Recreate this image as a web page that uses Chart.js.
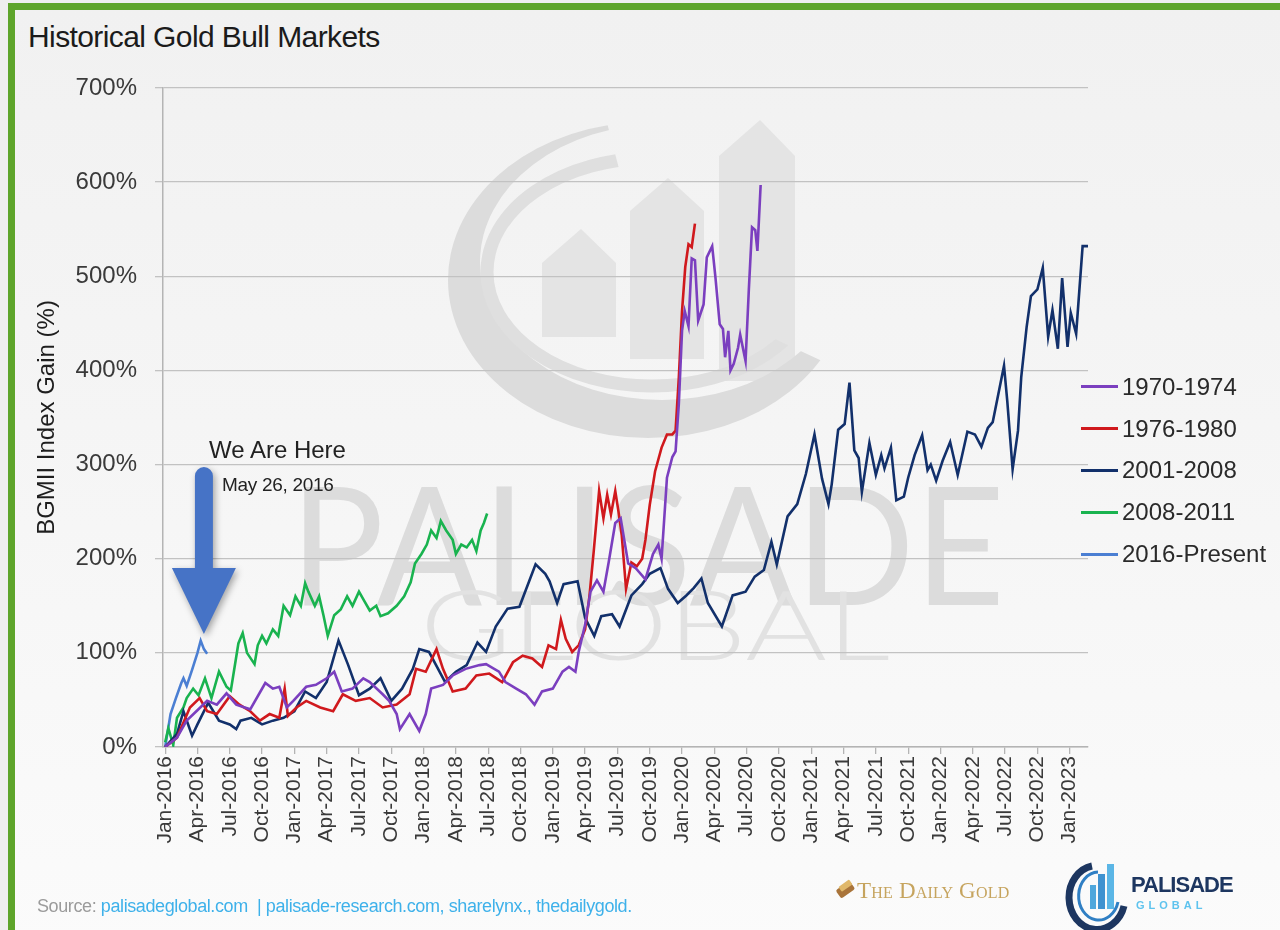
<!DOCTYPE html>
<html>
<head>
<meta charset="utf-8">
<title>Historical Gold Bull Markets</title>
<script src="https://cdn.jsdelivr.net/npm/chart.js@4.4.1/dist/chart.umd.min.js"></script>
<style>
  html, body { margin: 0; padding: 0; }
  body {
    width: 1280px; height: 930px; overflow: hidden; position: relative;
    background: #efefef;
    font-family: "Liberation Sans", Arial, Helvetica, sans-serif;
  }
  .frame {
    position: absolute; left: 8px; top: 3px; width: 1290px; height: 940px;
    border-top: 7px solid #5ea52b; border-left: 7px solid #5ea52b;
    background: linear-gradient(to bottom, #f1f1f1 0%, #f6f6f6 55%, #fbfbfb 100%);
  }
  #watermark { position: absolute; left: 0; top: 0; }
  #chart { position: absolute; left: 0; top: 0; }
  .title {
    position: absolute; left: 28px; top: 20px;
    font-size: 30px; color: #1b1b1b; letter-spacing: -0.6px; white-space: nowrap;
  }
  .note-big { position: absolute; left: 209px; top: 436px; font-size: 24px; color: #222; white-space: nowrap; }
  .note-small { position: absolute; left: 222px; top: 474px; font-size: 19px; color: #222; white-space: nowrap; letter-spacing: -0.3px; }
  #legend { position: absolute; left: 1081px; top: 366px; }
  #legend .item { height: 41.8px; display: flex; align-items: center; white-space: nowrap; }
  #legend .swatch { width: 37px; height: 3px; margin-right: 4px; }
  #legend .lbl { font-size: 24px; color: #2a2a2a; line-height: 28px; }
  .source {
    position: absolute; left: 37px; top: 896px; font-size: 18px; white-space: nowrap;
    color: #9b9b9b; letter-spacing: -0.4px;
  }
  .source span { color: #3eb1ea; }
  .dailygold {
    position: absolute; left: 857px; top: 878px; font-family: "Liberation Serif", "DejaVu Serif", serif;
    font-size: 23px; font-variant: small-caps; color: #c6a45e; white-space: nowrap; letter-spacing: 0.2px;
  }
  .pal-name {
    position: absolute; left: 1131px; top: 872px; font-size: 22px; font-weight: bold;
    color: #1d3660; letter-spacing: -1px; white-space: nowrap;
  }
  .pal-sub {
    position: absolute; left: 1136px; top: 899px; font-size: 11px; font-weight: bold;
    color: #5ec3ee; letter-spacing: 4px; white-space: nowrap;
  }
</style>
</head>
<body>
<div class="frame"></div>

<svg id="watermark" width="1280" height="930" xmlns="http://www.w3.org/2000/svg">
  <defs>
    <clipPath id="openTop">
      <polygon points="648,280 1101,491 1400,940 -200,940 -200,-300 519,-215"/>
    </clipPath>
  </defs>
  <g fill="#e4e4e4">
    <polygon points="542,337 542,263 581,229 616,263 616,337"/>
    <polygon points="630,359 630,211 668,178 704,211 704,359"/>
    <polygon points="719,381 719,156 760,120 795,156 795,381"/>
  </g>
  <g clip-path="url(#openTop)">
    <path fill="#dcdcdc" fill-rule="evenodd"
          d="M 448 280 A 200 158 0 1 0 848 280 A 200 158 0 1 0 448 280 Z
             M 480 262 A 182 138 0 1 0 844 262 A 182 138 0 1 0 480 262 Z"/>
    <ellipse cx="652" cy="272" rx="165" ry="114" fill="none" stroke="#dfdfdf" stroke-width="13"/>
  </g>
  <text x="290" y="605" font-family="Lato, 'Open Sans', sans-serif" font-size="165" fill="#dcdcdc"
        textLength="715" lengthAdjust="spacingAndGlyphs">PALISADE</text>
  <text x="420" y="660" font-family="Lato, 'Open Sans', sans-serif" font-weight="300" font-size="97" fill="#e2e2e2"
        textLength="470" lengthAdjust="spacingAndGlyphs">GLOBAL</text>
  <!-- footer logos -->
  <g>
    <rect x="837" y="885" width="17" height="10" rx="2" fill="#a9743a" transform="rotate(-35 845 890)"/>
    <rect x="839" y="883" width="13" height="6" rx="1" fill="#e0b86a" transform="rotate(-35 845 886)"/>
  </g>
  <g>
    <path d="M 1092 866 A 28 32 0 1 0 1124 906" fill="none" stroke="#1d3660" stroke-width="7"/>
    <path d="M 1098 872 A 20 24 0 1 0 1118 902" fill="none" stroke="#2f7fc4" stroke-width="3"/>
    <rect x="1090" y="885" width="6" height="24" fill="#4fa7dc"/>
    <rect x="1098" y="874" width="7" height="35" fill="#3f92d0"/>
    <rect x="1107" y="864" width="7" height="45" fill="#5bb6e6"/>
  </g>
</svg>

<div class="title">Historical Gold Bull Markets</div>
<canvas id="chart" width="1280" height="930"></canvas>
<div class="note-big">We Are Here</div>
<div class="note-small">May 26, 2016</div>
<div id="legend"></div>
<div class="source">Source: <span>palisadeglobal.com&nbsp; | palisade-research.com, sharelynx., thedailygold.</span></div>
<div class="dailygold">The Daily Gold</div>
<div class="pal-name">PALISADE</div>
<div class="pal-sub">GLOBAL</div>

<script>
// quarterly tick labels, one every 3 months starting Jan-2016 (month 0)
const tickLabels = [
  'Jan-2016', 'Apr-2016', 'Jul-2016', 'Oct-2016',
  'Jan-2017', 'Apr-2017', 'Jul-2017', 'Oct-2017',
  'Jan-2018', 'Apr-2018', 'Jul-2018', 'Oct-2018',
  'Jan-2019', 'Apr-2019', 'Jul-2019', 'Oct-2019',
  'Jan-2020', 'Apr-2020', 'Jul-2020', 'Oct-2020',
  'Jan-2021', 'Apr-2021', 'Jul-2021', 'Oct-2021',
  'Jan-2022', 'Apr-2022', 'Jul-2022', 'Oct-2022',
  'Jan-2023',
];

const seriesNames = ['1970-1974', '1976-1980', '2001-2008', '2008-2011', '2016-Present'];
const seriesColors = ['#7b3fbf', '#d0191d', '#12306b', '#19b34f', '#4b7fd3'];

// months since start of each bull market / BGMI gain in %
const months1970 = [0,1.1,2.0,2.9,3.9,4.8,5.7,6.6,7.9,9.3,10.0,10.6,11.3,11.9,13.1,14.0,15.0,15.7,16.4,17.4,
  18.4,19.0,20.2,20.8,21.5,21.8,22.7,23.6,24.2,24.7,25.8,26.7,27.9,29.2,29.8,31.0,31.6,32.6,33.5,34.3,
  35.0,36.0,36.9,37.5,38.1,38.4,39.0,39.5,40.1,40.7,41.2,41.8,42.3,43.0,43.7,44.6,45.3,45.8,46.1,46.6,
  47.1,47.4,47.7,48.0,48.25,48.6,48.9,49.2,49.5,50.0,50.3,50.8,51.1,51.5,51.8,52.0,52.3,52.5,52.8,53.2,
  53.4,53.9,54.2,54.5,54.8,55.0,55.3];
const gain1970 = [0,10,28,38,49,45,57,45,40,68,62,64,42,49,64,66,73,80,59,62,
  73,69,56,49,35,19,35,17,35,62,66,76,83,87,88,80,69,62,56,45,
  59,62,80,85,80,101,130,165,177,165,197,238,243,195,190,178,205,215,200,286,
  308,314,364,442,463,447,519,517,453,470,520,532,499,449,444,414,442,400,407,424,
  438,410,485,552,549,527,597];

const months1976 = [0,1.1,2.3,3.2,3.9,4.8,6.0,6.9,7.9,8.8,9.7,10.6,11.1,11.4,12.2,13.1,14.4,15.6,16.5,17.7,
  19.0,20.2,21.5,22.7,23.3,24.2,25.2,25.8,26.7,27.9,28.9,30.1,31.3,32.3,33.2,34.1,35.0,35.6,36.3,36.75,
  37.2,37.8,38.4,39.0,39.4,39.8,40.3,40.7,41.05,41.4,41.8,42.1,42.4,42.8,43.3,43.8,44.3,44.6,45.0,45.5,
  46.1,46.6,47.1,47.4,47.7,48.0,48.3,48.6,48.9,49.2];
const gain1976 = [0,10,42,52,38,35,54,45,38,28,35,31,62,33,42,49,42,38,56,49,
  52,42,45,56,83,80,104,83,59,62,76,78,69,90,97,94,85,108,104,135,
  115,101,108,125,160,208,272,243,268,247,272,250,225,168,196,192,200,220,257,293,
  318,332,332,336,392,463,510,534,531,556];

const months2001 = [0,1.1,1.7,2.5,3.0,4.0,5.0,6.0,6.6,7.0,8.0,9.0,10.0,11.0,12.0,13.0,14.0,15.0,16.1,17.0,
  18.0,19.0,20.0,21.0,22.0,23.0,23.6,24.5,26.0,27.0,28.0,29.0,29.8,30.7,31.8,32.9,34.4,35.3,35.7,36.4,
  37.0,38.3,39.0,39.85,40.5,41.5,42.2,43.3,44.3,45.0,46.0,46.7,47.6,48.4,49.1,49.8,50.4,51.7,52.7,53.9,
  54.75,55.6,56.3,56.8,57.8,58.7,59.5,60.3,61.0,61.6,61.9,62.5,63.1,63.55,64.0,64.4,64.7,65.4,66.0,66.5,
  66.8,67.4,67.9,68.6,69.0,69.6,70.3,70.8,71.1,71.6,72.2,72.9,73.6,74.5,75.2,75.8,76.4,76.85,77.9,78.2,
  78.7,79.2,79.5,80.0,80.4,81.0,81.5,82.0,82.4,82.9,83.3,83.8,84.1,84.6,85.2,85.7];
const gain2001 = [0,14,38,12,24,47,28,24,19,28,31,24,28,31,38,59,52,69,113,87,
  55,62,73,49,62,83,104,101,69,80,87,111,101,128,147,149,194,184,176,153,
  173,176,137,118,139,141,128,161,173,184,190,168,153,161,169,179,153,128,161,165,
  181,188,218,194,245,258,290,332,285,258,279,337,343,387,315,307,271,323,289,310,
  296,318,262,266,286,310,331,294,300,283,304,324,289,335,332,319,339,345,405,368,
  295,336,393,446,479,486,509,436,464,423,498,425,461,439,532,532];

const months2008 = [0,0.3,0.75,1.1,1.7,2.0,2.6,3.1,3.7,4.3,5.0,5.7,6.1,6.8,7.2,7.6,8.3,8.6,9.0,9.4,
  10.0,10.5,11.0,11.6,12.1,12.6,13.0,13.3,13.9,14.3,14.7,15.1,15.7,16.3,16.9,17.4,18.0,18.5,19.0,19.6,
  20.0,20.7,21.5,22.2,22.8,23.2,23.8,24.3,24.7,25.2,25.6,26.1,26.7,27.0,27.5,28.0,28.5,28.9,29.3,29.6,29.9];
const gain2008 = [5,20,2,31,42,52,62,55,73,52,80,64,60,110,121,100,88,108,118,110,
  125,118,150,140,160,150,174,165,150,160,140,118,140,146,160,150,165,155,145,150,
  139,142,150,160,175,195,205,215,230,222,240,230,220,205,215,212,220,208,230,238,248];

const months2016 = [0,0.5,1.0,1.5,1.7,2.0,2.5,3.0,3.3,3.6,3.9];
const gain2016 = [0,35,52,68,73,65,82,100,113,104,99];

// where the "We Are Here" arrow points (month, gain %)
const arrowAt = { month: 3.6, gain: 120 };

const monthSets = [months1970, months1976, months2001, months2008, months2016];
const gainSets = [gain1970, gain1976, gain2001, gain2008, gain2016];

const toPoints = (xs, ys) => xs.map((x, i) => ({ x, y: ys[i] }));

const datasets = seriesNames.map((name, i) => ({
  label: name,
  data: toPoints(monthSets[i], gainSets[i]),
  borderColor: seriesColors[i],
  backgroundColor: seriesColors[i],
  borderWidth: 2.6,
  pointRadius: 0,
  tension: 0,
  fill: false,
}));

// legend in the page, built from the datasets
const htmlLegend = {
  id: 'htmlLegend',
  afterUpdate(chart) {
    const box = document.getElementById('legend');
    box.innerHTML = chart.data.datasets.map(ds =>
      `<div class="item"><div class="swatch" style="background:${ds.borderColor}"></div>` +
      `<div class="lbl">${ds.label}</div></div>`).join('');
  },
};

// big blue arrow over the 2016 line
const weAreHere = {
  id: 'weAreHere',
  afterDraw(chart) {
    const { ctx, scales: { x, y } } = chart;
    const tipX = x.getPixelForValue(arrowAt.month);
    const tipY = y.getPixelForValue(arrowAt.gain);
    const headH = 66, headW = 32, shaftW = 9, shaftH = 92;
    const baseY = tipY - headH;
    ctx.save();
    ctx.shadowColor = 'rgba(0,0,0,0.35)';
    ctx.shadowBlur = 7;
    ctx.shadowOffsetX = 2;
    ctx.shadowOffsetY = 3;
    ctx.fillStyle = '#4673c6';
    ctx.beginPath();
    ctx.moveTo(tipX, tipY);
    ctx.lineTo(tipX - headW, baseY);
    ctx.lineTo(tipX - shaftW, baseY);
    ctx.lineTo(tipX - shaftW, baseY - shaftH);
    ctx.arc(tipX, baseY - shaftH, shaftW, Math.PI, 0);
    ctx.lineTo(tipX + shaftW, baseY);
    ctx.lineTo(tipX + headW, baseY);
    ctx.closePath();
    ctx.fill();
    ctx.restore();
  },
};

new Chart(document.getElementById('chart'), {
  type: 'line',
  data: { datasets },
  options: {
    responsive: false,
    animation: false,
    devicePixelRatio: 1,
    layout: { padding: { top: 88, right: 192, left: 0, bottom: 0 } },
    plugins: {
      legend: { display: false },
      tooltip: { enabled: false },
    },
    scales: {
      x: {
        type: 'linear',
        min: -0.2,
        max: 85.7,
        afterBuildTicks: s => { s.ticks = tickLabels.map((_, i) => ({ value: i * 3 })); },
        afterFit: s => { s.height = 183; },
        grid: { drawOnChartArea: false, drawTicks: true, tickLength: 7, color: '#b4b4b4', lineWidth: 1.3 },
        border: { color: '#b4b4b4', width: 1.5 },
        ticks: {
          autoSkip: false,
          minRotation: 90,
          maxRotation: 90,
          padding: 2,
          color: '#3a3a3a',
          font: { size: 21, family: '"Liberation Sans", Arial, sans-serif' },
          callback: v => tickLabels[Math.round(v / 3)],
        },
      },
      y: {
        min: 0,
        max: 700,
        afterFit: s => { s.width = 163; },
        grid: { color: '#c2c2c2', lineWidth: 1.3, tickLength: 8 },
        border: { color: '#b4b4b4', width: 1.5 },
        ticks: {
          stepSize: 100,
          padding: 18,
          color: '#3a3a3a',
          font: { size: 24, family: '"Liberation Sans", Arial, sans-serif' },
          callback: v => `${v}%`,
        },
        title: {
          display: true,
          text: 'BGMII Index Gain (%)',
          color: '#1e1e1e',
          padding: { top: 33, bottom: 0 },
          font: { size: 24, family: '"Liberation Sans", Arial, sans-serif' },
        },
      },
    },
  },
  plugins: [htmlLegend, weAreHere],
});
</script>
</body>
</html>
